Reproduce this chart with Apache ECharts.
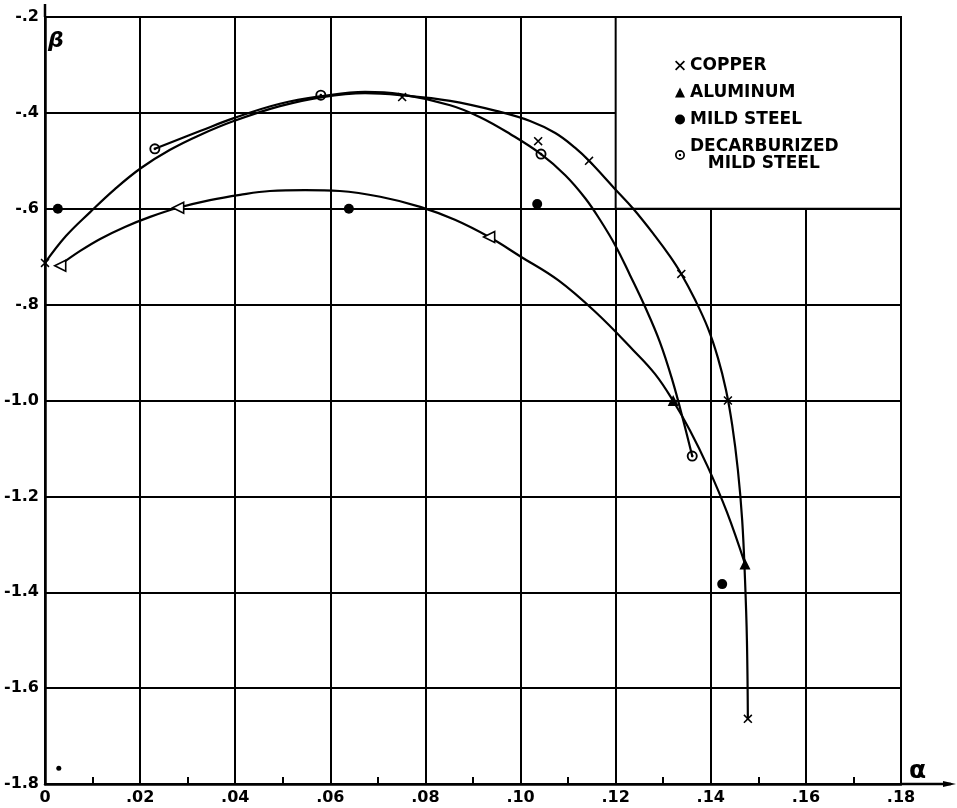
<!DOCTYPE html>
<html><head><meta charset="utf-8">
<script src="https://cdn.jsdelivr.net/npm/echarts/dist/echarts.min.js"></script>
<style>html,body{margin:0;padding:0;background:#fff}#c{width:957px;height:808px}</style>
</head><body><div id="c"></div>
<script>
// tick labels
const xTickLabels = ['0', '.02', '.04', '.06', '.08', '.10', '.12', '.14', '.16', '.18'];
const yTickLabels = ['-1.8', '-1.6', '-1.4', '-1.2', '-1.0', '-.8', '-.6', '-.4', '-.2'];

// measured points [alpha, beta]
const copperPts = [[0.0, -0.713], [0.0751, -0.367], [0.1037, -0.459], [0.1144, -0.500], [0.1338, -0.736], [0.1436, -1.0], [0.1478, -1.664]];
const aluminumPts = [[0.0032, -0.719], [0.028, -0.598], [0.0934, -0.659], [0.1321, -1.0], [0.1472, -1.341]];
const mildSteelPts = [[0.0027, -0.6], [0.0639, -0.6], [0.1035, -0.590], [0.1424, -1.383]];
const decarbPts = [[0.0231, -0.475], [0.058, -0.363], [0.1043, -0.486], [0.1361, -1.116]];
const strayDots = [[0.0029, -1.767]];

// faired curves
const copperCurve = [[0.0, -0.713], [0.0044, -0.657], [0.0095, -0.607], [0.0147, -0.559], [0.0202, -0.515], [0.0263, -0.477], [0.0326, -0.446], [0.0397, -0.417], [0.0494, -0.386], [0.0583, -0.367], [0.0673, -0.359], [0.0747, -0.363], [0.0852, -0.375], [0.0957, -0.398], [0.1020, -0.417], [0.1073, -0.442], [0.1115, -0.473], [0.1144, -0.500], [0.1197, -0.557], [0.1237, -0.600], [0.1283, -0.657], [0.1314, -0.699], [0.1338, -0.736], [0.1367, -0.790], [0.1394, -0.849], [0.1415, -0.911], [0.1432, -0.978], [0.1445, -1.051], [0.1457, -1.145], [0.1466, -1.249], [0.1472, -1.374], [0.1476, -1.500], [0.1478, -1.666]];
const decarbCurve = [[0.0231, -0.475], [0.0326, -0.438], [0.0397, -0.411], [0.0494, -0.381], [0.0583, -0.365], [0.0673, -0.356], [0.0747, -0.361], [0.0852, -0.384], [0.0915, -0.409], [0.0978, -0.444], [0.1043, -0.486], [0.1094, -0.530], [0.1136, -0.578], [0.1167, -0.623], [0.1199, -0.676], [0.1230, -0.738], [0.1262, -0.805], [0.1293, -0.878], [0.1319, -0.957], [0.1342, -1.041], [0.1361, -1.116]];
const aluminumCurve = [[0.0032, -0.717], [0.0074, -0.688], [0.0116, -0.663], [0.0168, -0.638], [0.0221, -0.617], [0.0280, -0.598], [0.0347, -0.582], [0.0410, -0.571], [0.0473, -0.563], [0.0547, -0.561], [0.0620, -0.563], [0.0705, -0.575], [0.0789, -0.596], [0.0862, -0.623], [0.0934, -0.659], [0.0999, -0.699], [0.1079, -0.749], [0.1157, -0.815], [0.1237, -0.895], [0.1283, -0.945], [0.1321, -1.001], [0.1356, -1.062], [0.1394, -1.139], [0.1434, -1.233], [0.1472, -1.341]];

const seriesNames = ['COPPER', 'ALUMINUM', 'MILD STEEL', 'DECARBURIZED\n   MILD STEEL'];

const FONT = 'DejaVu Sans';
const X_SYMBOL = 'path://M0,1.2L1.2,0L5,3.8L8.8,0L10,1.2L6.2,5L10,8.8L8.8,10L5,6.2L1.2,10L0,8.8L3.8,5Z';
const RING_SYMBOL = 'path://M5,0A5,5,0,1,1,5,10A5,5,0,1,1,5,0Z M5,1.7A3.3,3.3,0,1,0,5,8.3A3.3,3.3,0,1,0,5,1.7Z M5,3.8A1.2,1.2,0,1,1,5,6.2A1.2,1.2,0,1,1,5,3.8Z';

function curveSeries(data) {
  return {
    type: 'line', data: data, smooth: 0.4, showSymbol: false, silent: true, z: 3,
    lineStyle: {color: '#000', width: 2.2}, legendHoverLink: false
  };
}

const aluminumItems = aluminumPts.map((p, i) => i < 3
  ? {value: p, symbolRotate: 90, itemStyle: {color: '#fff', borderColor: '#000', borderWidth: 1.6}}
  : {value: p});

const option = {
  backgroundColor: '#fff',
  animation: false,
  grid: {left: 45, top: 17, right: 56, bottom: 24, containLabel: false},
  xAxis: {
    type: 'value', min: 0, max: 0.18, interval: 0.02,
    axisLine: {show: true, onZero: false, lineStyle: {color: '#000', width: 2.5}},
    axisTick: {show: true, inside: true, length: 6, lineStyle: {color: '#000', width: 2}},
    minorTick: {show: true, splitNumber: 2, length: 7, lineStyle: {color: '#000', width: 2}},
    splitLine: {show: true, lineStyle: {color: '#000', width: 2}},
    axisLabel: {
      margin: 6, color: '#000', fontFamily: FONT, fontWeight: 'bold', fontSize: 16,
      formatter: v => xTickLabels[Math.round(v / 0.02)] || ''
    }
  },
  yAxis: {
    type: 'value', min: -1.8, max: -0.2, interval: 0.2,
    axisLine: {show: true, onZero: false, lineStyle: {color: '#000', width: 2.5}},
    axisTick: {show: false},
    splitLine: {show: true, lineStyle: {color: '#000', width: 2}},
    axisLabel: {
      margin: 6, color: '#000', fontFamily: FONT, fontWeight: 'bold', fontSize: 16,
      formatter: v => yTickLabels[Math.round((v + 1.8) / 0.2)] || ''
    }
  },
  legend: {
    orient: 'vertical', left: 670, top: 52, itemWidth: 10, itemHeight: 10, itemGap: 10,
    selectedMode: false,
    data: seriesNames,
    textStyle: {color: '#000', fontFamily: FONT, fontWeight: 'bold', fontSize: 17, lineHeight: 17}
  },
  series: [
    {
      type: 'scatter', data: [], z: 1, silent: true,
      markArea: {
        silent: true,
        itemStyle: {color: '#fff', borderColor: '#000', borderWidth: 2},
        data: [[{coord: [0.12, -0.2]}, {coord: [0.18, -0.6]}]]
      }
    },
    curveSeries(copperCurve),
    curveSeries(decarbCurve),
    curveSeries(aluminumCurve),
    {name: seriesNames[0], type: 'scatter', data: copperPts, symbol: X_SYMBOL, symbolSize: 9, z: 4, itemStyle: {color: '#000', opacity: 1}},
    {name: seriesNames[1], type: 'scatter', data: aluminumItems, symbol: 'triangle', symbolSize: 11, z: 4, itemStyle: {color: '#000', opacity: 1}},
    {name: seriesNames[2], type: 'scatter', data: mildSteelPts, symbol: 'circle', symbolSize: 10, z: 4, itemStyle: {color: '#000', opacity: 1}},
    {name: seriesNames[3], type: 'scatter', data: decarbPts, symbol: RING_SYMBOL, symbolSize: 11, z: 4, itemStyle: {color: '#000', opacity: 1}},
    {type: 'scatter', data: strayDots, symbol: 'circle', symbolSize: 5, z: 4, itemStyle: {color: '#000', opacity: 1}, silent: true}
  ]
};

const chart = echarts.init(document.getElementById('c'));
chart.setOption(option);
const pEnd = chart.convertToPixel({gridIndex: 0}, [0.18, -1.8]);
const pTop = chart.convertToPixel({gridIndex: 0}, [0, -0.2]);
chart.setOption({
  graphic: [
    {type: 'line', shape: {x1: pEnd[0], y1: pEnd[1], x2: pEnd[0] + 50, y2: pEnd[1]}, style: {stroke: '#000', lineWidth: 2.5}},
    {type: 'polygon', shape: {points: [[pEnd[0] + 55, pEnd[1]], [pEnd[0] + 42, pEnd[1] - 3], [pEnd[0] + 42, pEnd[1] + 3]]}, style: {fill: '#000'}},
    {type: 'line', shape: {x1: pTop[0], y1: pTop[1], x2: pTop[0], y2: pTop[1] - 13}, style: {stroke: '#000', lineWidth: 2.5}},
    {type: 'text', x: pEnd[0] + 8, y: pEnd[1] - 13, style: {text: 'α', font: 'bold 25px "DejaVu Sans"', fill: '#000', textVerticalAlign: 'middle'}},
    {type: 'text', x: pTop[0] + 3, y: pTop[1] + 24, style: {text: 'β', font: 'italic bold 22px "DejaVu Sans"', fill: '#000', textVerticalAlign: 'middle'}}
  ]
});
</script>
</body></html>
